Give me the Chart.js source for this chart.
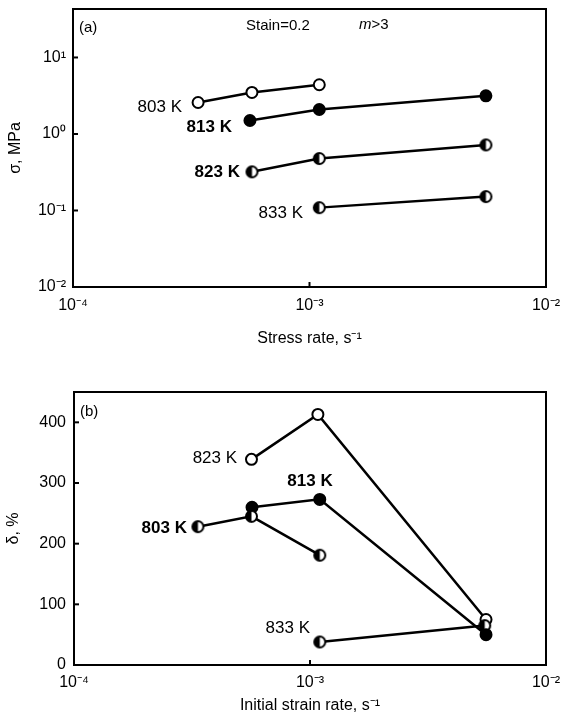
<!DOCTYPE html>
<html>
<head>
<meta charset="utf-8">
<script src="https://cdn.jsdelivr.net/npm/chart.js@4"></script>
<style>
  body { margin: 0; background: #fff; }
  #wrap { position: relative; width: 563px; height: 723px; }
  canvas { position: absolute; left: 0; }
</style>
</head>
<body>
<div id="wrap">
  <canvas id="chartA" width="563" height="350" style="top:0"></canvas>
  <canvas id="chartB" width="563" height="373" style="top:350px"></canvas>
</div>
<script>
// panel (a): flow stress vs strain rate
var xA803 = [3.38e-4, 5.71e-4, 1.1e-3];
var yA803 = [2.58, 3.49, 4.4];
var xA813 = [5.6e-4, 1.1e-3, 5.57e-3];
var yA813 = [1.5, 2.09, 3.15];
var xA823 = [5.71e-4, 1.1e-3, 5.57e-3];
var yA823 = [0.32, 0.478, 0.72];
var xA833 = [1.1e-3, 5.57e-3];
var yA833 = [0.109, 0.152];

// panel (b): elongation vs initial strain rate
var xB803 = [3.35e-4, 5.65e-4, 1.1e-3];
var yB803 = [228, 245, 181];
var xB813 = [5.68e-4, 1.1e-3, 5.57e-3];
var yB813 = [260, 273, 50];
var xB823 = [5.65e-4, 1.08e-3, 5.57e-3];
var yB823 = [339, 413, 75];
var xB833 = [1.1e-3, 5.5e-3];
var yB833 = [38, 65];

// ticks
var xTicks = [1e-4, 1e-3, 1e-2];
var xTickLabels = ['10\u207B\u2074', '10\u207B\u00B3', '10\u207B\u00B2'];
var yTicksA = [10, 1, 0.1, 0.01];
var yTickLabelsA = ['10\u00B9', '10\u2070', '10\u207B\u00B9', '10\u207B\u00B2'];
var yTicksB = [0, 100, 200, 300, 400];

// curve labels: text, x, y (data units)
var labelsA = [
    { t: '803 K', x: 2.89e-4, y: 2.22, bold: false, align: 'right' },
    { t: '813 K', x: 4.7e-4, y: 1.22, bold: true, align: 'right' },
    { t: '823 K', x: 5.08e-4, y: 0.314, bold: true, align: 'right' },
    { t: '833 K', x: 9.39e-4, y: 0.092, bold: false, align: 'right' }
];
var labelsB = [
    { t: '823 K', x: 4.91e-4, y: 340, bold: false, align: 'right' },
    { t: '813 K', x: 1.0e-3, y: 303, bold: true, align: 'center' },
    { t: '803 K', x: 3.01e-4, y: 226, bold: true, align: 'right' },
    { t: '833 K', x: 1.0e-3, y: 60, bold: false, align: 'right' }
];

Chart.defaults.font.family = "'Liberation Sans', Arial, sans-serif";
Chart.defaults.font.size = 16;
Chart.defaults.color = '#000';

function pts(xs, ys) {
    return xs.map(function (x, i) { return { x: x, y: ys[i] }; });
}

function halfDot(r) {
    var c = document.createElement('canvas');
    var s = 2 * r + 4;
    c.width = s; c.height = s;
    var g = c.getContext('2d');
    var m = s / 2;
    g.beginPath(); g.arc(m, m, r, 0, Math.PI * 2); g.fillStyle = '#fff'; g.fill();
    g.beginPath(); g.arc(m, m, r, Math.PI / 2, Math.PI * 1.5); g.closePath(); g.fillStyle = '#000'; g.fill();
    g.beginPath(); g.arc(m, m, r, 0, Math.PI * 2); g.lineWidth = 2; g.strokeStyle = '#000'; g.stroke();
    return c;
}
var half = halfDot(5.5);

function serie(data, kind) {
    return {
        data: data,
        borderColor: '#000',
        borderWidth: 2.5,
        pointRadius: 5.5,
        pointBorderWidth: 2,
        pointBorderColor: '#000',
        pointBackgroundColor: kind === 'filled' ? '#000' : '#fff',
        pointStyle: kind === 'half' ? half : 'circle',
        tension: 0
    };
}

var boxPlugin = {
    id: 'box',
    afterDraw: function (chart) {
        var ctx = chart.ctx, a = chart.chartArea;
        ctx.save();
        ctx.strokeStyle = '#000';
        ctx.lineWidth = 2;
        ctx.strokeRect(a.left, a.top, a.right - a.left, a.bottom - a.top);
        // inward tick marks
        var sx = chart.scales.x, sy = chart.scales.y;
        sx.ticks.forEach(function (t, i) {
            var px = sx.getPixelForTick(i);
            ctx.beginPath(); ctx.moveTo(px, a.bottom); ctx.lineTo(px, a.bottom - 5); ctx.stroke();
        });
        sy.ticks.forEach(function (t, i) {
            var py = sy.getPixelForTick(i);
            ctx.beginPath(); ctx.moveTo(a.left, py); ctx.lineTo(a.left + 5, py); ctx.stroke();
        });
        ctx.restore();
    }
};

var textPlugin = {
    id: 'texts',
    afterDatasetsDraw: function (chart, args, opts) {
        var ctx = chart.ctx, a = chart.chartArea;
        var sx = chart.scales.x, sy = chart.scales.y;
        ctx.save();
        ctx.fillStyle = '#000';
        ctx.textBaseline = 'middle';
        (opts.labels || []).forEach(function (l) {
            ctx.font = (l.bold ? 'bold ' : '') + "17px 'Liberation Sans', Arial, sans-serif";
            ctx.textAlign = l.align;
            ctx.fillText(l.t, sx.getPixelForValue(l.x), sy.getPixelForValue(l.y));
        });
        ctx.font = "15px 'Liberation Sans', Arial, sans-serif";
        ctx.textAlign = 'left';
        if (opts.panel === '(a)') {
            ctx.fillText('(a)', a.left + 6, a.top + 19);
            ctx.textAlign = 'center';
            ctx.fillText('Stain=0.2', sx.getPixelForValue(7.35e-4), a.top + 17);
            ctx.textAlign = 'left';
            ctx.font = "italic 15px 'Liberation Sans', Arial, sans-serif";
            ctx.fillText('m', sx.getPixelForValue(1.62e-3), a.top + 16);
            var w = ctx.measureText('m').width;
            ctx.font = "15px 'Liberation Sans', Arial, sans-serif";
            ctx.fillText('>3', sx.getPixelForValue(1.62e-3) + w, a.top + 16);
        } else {
            ctx.fillText('(b)', a.left + 6, a.top + 20);
        }
        ctx.restore();
    }
};

function xScale(title, tickPad, titlePad, h) {
    return {
        type: 'logarithmic',
        min: 1e-4,
        max: 1e-2,
        afterBuildTicks: function (s) { s.ticks = xTicks.map(function (v) { return { value: v }; }); },
        afterFit: function (s) { s.height = h; s.paddingLeft = 0; s.paddingRight = 0; },
        ticks: {
            padding: tickPad,
            maxRotation: 0,
            autoSkip: false,
            callback: function (v) { return xTickLabels[xTicks.indexOf(v)]; }
        },
        grid: { display: false, drawTicks: false },
        border: { display: true, color: '#000', width: 2 },
        title: { display: true, text: title, padding: titlePad }
    };
}

new Chart(document.getElementById('chartA'), {
    type: 'line',
    data: {
        datasets: [
            serie(pts(xA803, yA803), 'open'),
            serie(pts(xA813, yA813), 'filled'),
            serie(pts(xA823, yA823), 'half'),
            serie(pts(xA833, yA833), 'half')
        ]
    },
    options: {
        responsive: false,
        animation: false,
        layout: { padding: { top: 9, right: 17, left: 0, bottom: 0 } },
        plugins: {
            legend: { display: false },
            tooltip: { enabled: false },
            texts: { labels: labelsA, panel: '(a)' }
        },
        scales: {
            x: xScale('Stress rate, s\u207B\u00B9', 9, { top: 4, bottom: 2 }, 63),
            y: {
                type: 'logarithmic',
                min: 0.01,
                max: 43,
                afterBuildTicks: function (s) { s.ticks = yTicksA.map(function (v) { return { value: v }; }); },
                afterFit: function (s) { s.width = 73; s.paddingTop = 0; s.paddingBottom = 0; },
                ticks: {
                    padding: 7,
                    autoSkip: false,
                    callback: function (v) { return yTickLabelsA[yTicksA.indexOf(v)]; }
                },
                grid: { display: false, drawTicks: false },
                border: { display: true, color: '#000', width: 2 },
                title: { display: true, text: '\u03C3, MPa', padding: { top: 6, bottom: 0 } }
            }
        }
    },
    plugins: [boxPlugin, textPlugin]
});

new Chart(document.getElementById('chartB'), {
    type: 'line',
    data: {
        datasets: [
            serie(pts(xB803, yB803), 'half'),
            serie(pts(xB813, yB813), 'filled'),
            serie(pts(xB833, yB833), 'half'),
            serie(pts(xB823, yB823), 'open')
        ]
    },
    options: {
        responsive: false,
        animation: false,
        layout: { padding: { top: 42, right: 17, left: 0, bottom: 0 } },
        plugins: {
            legend: { display: false },
            tooltip: { enabled: false },
            texts: { labels: labelsB, panel: '(b)' }
        },
        scales: {
            x: xScale('Initial strain rate, s\u207B\u00B9', 8, { top: 2, bottom: 8 }, 58),
            y: {
                type: 'linear',
                min: 0,
                max: 450,
                afterBuildTicks: function (s) { s.ticks = yTicksB.map(function (v) { return { value: v }; }); },
                afterFit: function (s) { s.width = 74; s.paddingTop = 0; s.paddingBottom = 0; },
                ticks: { padding: 8, autoSkip: false },
                grid: { display: false, drawTicks: false },
                border: { display: true, color: '#000', width: 2 },
                title: { display: true, text: '\u03B4, %', padding: { top: 4, bottom: 0 } }
            }
        }
    },
    plugins: [boxPlugin, textPlugin]
});
</script>
</body>
</html>
